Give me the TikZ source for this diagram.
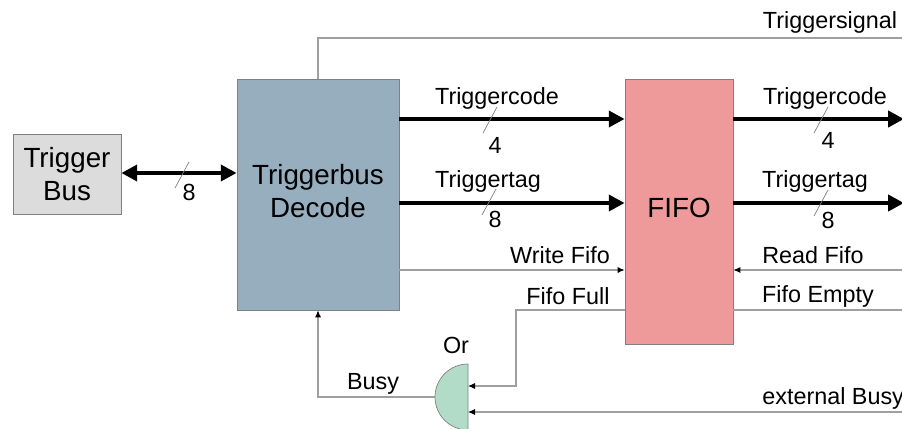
\documentclass[tikz,border=0pt]{standalone}
\usepackage{fontspec}
\setmainfont{Liberation Sans}
\usetikzlibrary{arrows.meta,calc}

\definecolor{busgray}{HTML}{DCDCDC}
\definecolor{decodeblue}{HTML}{97AEBF}
\definecolor{fifored}{HTML}{EE9A9B}
\definecolor{orgreen}{HTML}{B3DCC8}

\begin{document}
\begin{tikzpicture}[
    x=0.02cm, y=-0.02cm,
    block/.style={rectangle, draw=gray, align=center, inner sep=0pt},
    bigtext/.style={font=\fontsize{15.8}{18.5}\selectfont},
    label/.style={font=\fontsize{13.3}{15}\selectfont, inner sep=0pt},
    bus/.style={line width=2.8pt, -{Triangle[length=9pt,width=9pt]}},
    bibus/.style={line width=2.8pt, {Triangle[length=9pt,width=9pt]}-{Triangle[length=9pt,width=9pt]}},
    signal/.style={draw=gray!75, line width=0.6pt},
    sigarrow/.style={signal, -{Latex[length=4pt,width=3.5pt,color=black]}},
    tick/.style={draw=gray, line width=0.4pt}
]

\useasboundingbox (0,0) rectangle (902,429);
\clip (0,0) rectangle (902,429);

% Blocks
\node[block, bigtext, fill=busgray, minimum width=2.16cm, minimum height=1.6cm]
    (tbus) at (67,174) {Trigger\\Bus};
\node[block, bigtext, fill=decodeblue, minimum width=3.24cm, minimum height=4.62cm]
    (decode) at (318,194.5) {\raisebox{4.5pt}{\begin{tabular}{@{}c@{}}Triggerbus\\Decode\end{tabular}}};
\node[block, bigtext, fill=fifored, minimum width=2.16cm, minimum height=5.3cm]
    (fifo) at (679,211.5) {\raisebox{4pt}{FIFO}};

% Or gate
\draw[draw=gray, fill=orgreen] (468,364) arc[start angle=90, end angle=270, radius=0.66cm] -- cycle;
\coordinate (orin1) at (468,386);
\coordinate (orin2) at (468,412);
\coordinate (orout) at (435,397);
\node[label] (orlbl) at (456,345) {Or};

% Free ends on the right
\coordinate (sigout) at (902,38);
\coordinate (codeout) at (904,119);
\coordinate (tagout) at (904,203);
\coordinate (rdin) at (902,270);
\coordinate (emptyout) at (902,310);
\coordinate (extin) at (902,412);

% Buses
\draw[bibus] (tbus.east |- 0,173) -- (decode.west |- 0,173);
\draw[bus] (decode.east |- codeout) -- (fifo.west |- codeout);
\draw[bus] (decode.east |- tagout) -- (fifo.west |- tagout);
\draw[bus] (fifo.east |- codeout) -- (codeout);
\draw[bus] (fifo.east |- tagout) -- (tagout);

\foreach \x/\y in {182/175, 490/120, 489/202, 821/120, 821/203}
    \draw[tick] (\x-7,\y+13) -- (\x+7,\y-13);

% Control signals
\draw[signal] (decode.north) |- (sigout);
\draw[sigarrow] (decode.east |- rdin) -- (fifo.west |- rdin);
\draw[sigarrow] (rdin) -- (fifo.east |- rdin);
\draw[signal] (fifo.east |- emptyout) -- (emptyout);
\draw[sigarrow] (fifo.west |- emptyout) -| (516,386) -- (orin1);
\draw[sigarrow] (extin) -- (orin2);
\draw[sigarrow] (orout) -| (decode.south);

% Labels
\node[label] (l8a) at (189,192) {8};
\node[label] (lcode) at (497,98) {Triggercode};
\node[label] (l4a) at (495,145) {4};
\node[label] (ltag) at (488,181) {Triggertag};
\node[label] (l8b) at (495,219) {8};
\node[label] (lsig) at (830,22) {Triggersignal};
\node[label] (lcode2) at (825,98) {Triggercode};
\node[label] (l4b) at (828,140) {4};
\node[label] (ltag2) at (815,181) {Triggertag};
\node[label] (l8c) at (828,220) {8};
\node[label] (lwr) at (560,255) {Write Fifo};
\node[label] (lfull) at (568,296) {Fifo Full};
\node[label] (lrd) at (813,255) {Read Fifo};
\node[label] (lempty) at (818,296) {Fifo Empty};
\node[label, anchor=west] (lext) at (762,398) {external Busy};
\node[label] (lbusy) at (373,384) {Busy};

\end{tikzpicture}
\end{document}
